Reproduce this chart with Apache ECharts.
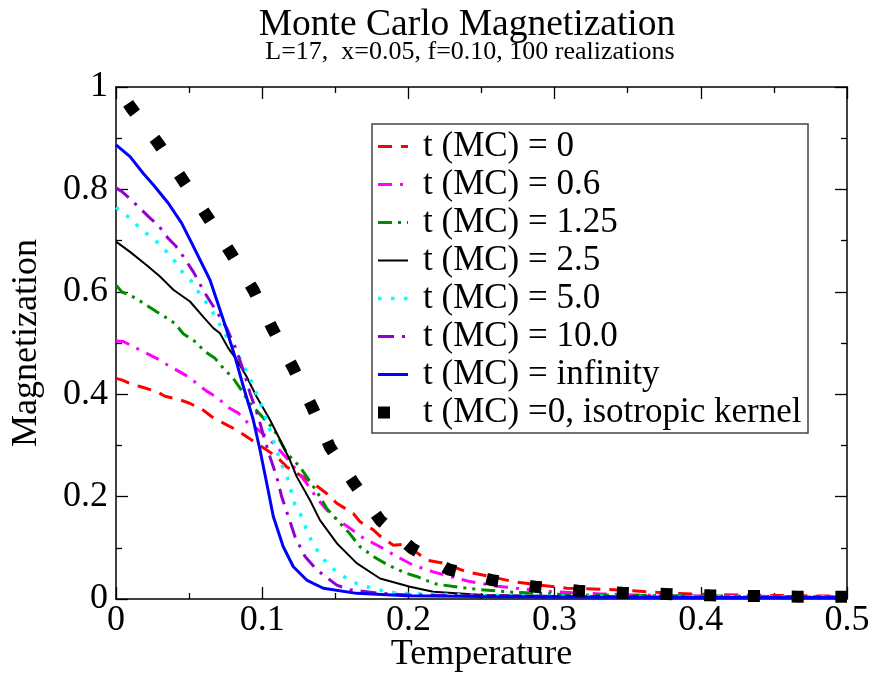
<!DOCTYPE html>
<html>
<head>
<meta charset="utf-8">
<script src="https://cdn.jsdelivr.net/npm/echarts@6/dist/echarts.min.js"></script>
<style>html,body{margin:0;padding:0;background:#fff;overflow:hidden}#c{width:874px;height:675px}</style>
</head>
<body>
<div id="c"></div>
<script>
const titleText = 'Monte Carlo Magnetization';
const subtitleText = 'L=17,  x=0.05, f=0.10, 100 realizations';
const xName = 'Temperature';
const yName = 'Magnetization';
const seriesNames = ['t (MC) = 0', 't (MC) = 0.6', 't (MC) = 1.25', 't (MC) = 2.5', 't (MC) = 5.0', 't (MC) = 10.0', 't (MC) = infinity', 't (MC) =0, isotropic kernel'];

const tmc0 = [[0,0.431],[0.0039,0.428],[0.0096,0.421],[0.0164,0.415],[0.0278,0.405],[0.0335,0.396],[0.0438,0.389],[0.0506,0.382],[0.0597,0.369],[0.0655,0.356],[0.0757,0.340],[0.0826,0.330],[0.0894,0.317],[0.0962,0.304],[0.1031,0.291],[0.1099,0.278],[0.1168,0.258],[0.1236,0.246],[0.135,0.226],[0.1441,0.206],[0.151,0.187],[0.1623,0.167],[0.1669,0.151],[0.176,0.135],[0.1806,0.123],[0.1897,0.105],[0.1965,0.107],[0.2034,0.096],[0.2125,0.076],[0.2239,0.070],[0.2399,0.053],[0.2558,0.044],[0.2718,0.034],[0.29,0.027],[0.3083,0.021],[0.3333,0.019],[0.3538,0.016],[0.3812,0.011],[0.4063,0.009],[0.4428,0.007],[0.4793,0.006],[0.5,0.006]];
const tmc06 = [[0,0.504],[0.005,0.503],[0.0118,0.493],[0.0187,0.483],[0.0278,0.470],[0.0335,0.460],[0.0415,0.447],[0.0495,0.434],[0.0552,0.421],[0.062,0.406],[0.07,0.392],[0.0757,0.376],[0.0837,0.363],[0.0905,0.343],[0.0962,0.333],[0.1053,0.311],[0.1099,0.297],[0.119,0.268],[0.1304,0.226],[0.1384,0.193],[0.1464,0.167],[0.1532,0.151],[0.1601,0.138],[0.1692,0.119],[0.1806,0.102],[0.192,0.083],[0.2034,0.066],[0.217,0.053],[0.2285,0.044],[0.2421,0.034],[0.2604,0.025],[0.2741,0.021],[0.2923,0.016],[0.3128,0.012],[0.3311,0.010],[0.3538,0.008],[0.4,0.006],[0.5,0.004]];
const tmc125 = [[0,0.613],[0.0039,0.600],[0.0118,0.590],[0.0187,0.578],[0.0278,0.561],[0.0335,0.551],[0.0404,0.538],[0.046,0.518],[0.054,0.503],[0.0609,0.483],[0.0677,0.470],[0.0734,0.451],[0.0802,0.431],[0.0848,0.412],[0.0917,0.382],[0.1019,0.350],[0.1076,0.333],[0.1168,0.285],[0.1259,0.258],[0.1327,0.229],[0.1373,0.210],[0.1441,0.177],[0.1532,0.148],[0.1589,0.131],[0.1669,0.102],[0.1783,0.079],[0.1863,0.066],[0.1988,0.050],[0.2057,0.044],[0.2114,0.037],[0.2194,0.029],[0.2341,0.023],[0.2467,0.019],[0.2672,0.014],[0.29,0.011],[0.3083,0.008],[0.4,0.006],[0.5,0.004]];
const tmc25 = [[0,0.698],[0.0096,0.678],[0.021,0.652],[0.0301,0.630],[0.0392,0.604],[0.0506,0.581],[0.0597,0.551],[0.0666,0.529],[0.0711,0.519],[0.0768,0.490],[0.0826,0.467],[0.0894,0.434],[0.0962,0.395],[0.1053,0.350],[0.1122,0.311],[0.119,0.271],[0.1236,0.239],[0.1327,0.193],[0.1395,0.154],[0.151,0.109],[0.1646,0.070],[0.1806,0.040],[0.2011,0.024],[0.217,0.014],[0.2512,0.008],[0.3,0.006],[0.4,0.004],[0.5,0.003]];
const tmc5 = [[0,0.765],[0.0039,0.756],[0.0096,0.744],[0.0153,0.727],[0.0221,0.711],[0.0289,0.695],[0.0347,0.678],[0.0404,0.659],[0.046,0.636],[0.0518,0.620],[0.0563,0.600],[0.062,0.578],[0.0666,0.558],[0.0711,0.535],[0.0757,0.512],[0.0848,0.470],[0.0928,0.424],[0.0997,0.376],[0.1053,0.330],[0.111,0.281],[0.1144,0.255],[0.1179,0.232],[0.1202,0.206],[0.1224,0.184],[0.127,0.161],[0.1304,0.135],[0.1339,0.112],[0.1384,0.092],[0.1441,0.070],[0.151,0.053],[0.1578,0.040],[0.1669,0.027],[0.176,0.021],[0.1852,0.014],[0.1943,0.011],[0.25,0.007],[0.35,0.005],[0.5,0.004]];
const tmc10 = [[0,0.803],[0.0039,0.796],[0.0107,0.779],[0.0164,0.763],[0.0233,0.744],[0.0289,0.730],[0.0358,0.704],[0.0404,0.691],[0.046,0.669],[0.0529,0.639],[0.0609,0.597],[0.0689,0.561],[0.0757,0.529],[0.0814,0.493],[0.0871,0.447],[0.0917,0.402],[0.0973,0.356],[0.1008,0.320],[0.1053,0.278],[0.1099,0.239],[0.1133,0.200],[0.1179,0.161],[0.1224,0.122],[0.1293,0.083],[0.1373,0.057],[0.151,0.027],[0.1601,0.018],[0.1806,0.011],[0.2,0.008],[0.25,0.006],[0.35,0.004],[0.5,0.003]];
const tmcInf = [[0,0.887],[0.0096,0.864],[0.0187,0.831],[0.0255,0.809],[0.0358,0.773],[0.0449,0.734],[0.0518,0.695],[0.0643,0.623],[0.0746,0.535],[0.0814,0.473],[0.0871,0.415],[0.0939,0.350],[0.0985,0.291],[0.1031,0.226],[0.1076,0.161],[0.1144,0.102],[0.1213,0.063],[0.1304,0.037],[0.1418,0.021],[0.1646,0.011],[0.1988,0.0064],[0.25,0.005],[0.3,0.004],[0.4,0.003],[0.5,0.003]];
const isoKernel = [[0.0083,0.968],[0.0107,0.958],[0.0289,0.890],[0.0453,0.820],[0.0620,0.749],[0.0785,0.676],[0.0939,0.604],[0.1072,0.527],[0.1213,0.451],[0.1343,0.374],[0.1464,0.296],[0.1630,0.225],[0.1806,0.154],[0.2023,0.099],[0.2273,0.058],[0.2570,0.037],[0.2866,0.024],[0.3162,0.016],[0.3466,0.012],[0.3762,0.0098],[0.4063,0.0072],[0.4364,0.0059],[0.4663,0.0045],[0.4964,0.0045],[0.5,0.0045]];

const FONT = "'Liberation Serif','Times New Roman',serif";
const chart = echarts.init(document.getElementById('c'), null, {renderer: 'canvas', width: 874, height: 675});

function lineSeries(name, data, color, width, dash, extra) {
  return Object.assign({
    name: name, type: 'line', data: data, symbol: 'none', smooth: false,
    xAxisIndex: 0, yAxisIndex: 0, animation: false,
    lineStyle: {color: color, width: width, type: dash, cap: 'butt'},
    itemStyle: {color: color}
  }, extra || {});
}

const axisCommon = {
  type: 'value',
  axisLine: {show: true, onZero: false, lineStyle: {color: '#000', width: 1.5}},
  axisTick: {show: true, inside: true, length: 12, lineStyle: {color: '#000', width: 1.3}},
  minorTick: {show: true, splitNumber: 2, length: 6, lineStyle: {color: '#000', width: 1.3}},
  splitLine: {show: false},
  minorSplitLine: {show: false}
};

const option = {
  backgroundColor: '#fff',
  animation: false,
  title: [
    {text: titleText, left: 467, top: 6, textAlign: 'center', padding: 0,
     textStyle: {fontFamily: FONT, fontSize: 37.5, fontWeight: 'normal', color: '#000'}},
    {text: subtitleText, left: 470, top: 39, textAlign: 'center', padding: 0,
     textStyle: {fontFamily: FONT, fontSize: 26, fontWeight: 'normal', color: '#000'}}
  ],
  grid: {left: 116, top: 87, width: 731, height: 512, containLabel: false, outerBoundsMode: 'none'},
  xAxis: [
    Object.assign({}, axisCommon, {
      min: 0, max: 0.5, interval: 0.1, position: 'bottom',
      name: xName, nameLocation: 'middle', nameGap: 38, nameMoveOverlap: false,
      nameTextStyle: {fontFamily: FONT, fontSize: 36, color: '#000'},
      axisLabel: {fontFamily: FONT, fontSize: 36, color: '#000', margin: 4}
    }),
    Object.assign({}, axisCommon, {
      min: 0, max: 0.5, interval: 0.1, position: 'top', axisLabel: {show: false}
    })
  ],
  yAxis: [
    Object.assign({}, axisCommon, {
      min: 0, max: 1, interval: 0.2, position: 'left',
      name: yName, nameLocation: 'middle', nameGap: 71, nameMoveOverlap: false,
      nameTextStyle: {fontFamily: FONT, fontSize: 36, color: '#000'},
      axisLabel: {fontFamily: FONT, fontSize: 36, color: '#000', margin: 8}
    }),
    Object.assign({}, axisCommon, {
      min: 0, max: 1, interval: 0.2, position: 'right', axisLabel: {show: false}
    })
  ],
  legend: {
    orient: 'vertical', left: 372, top: 129, padding: 0,
    itemWidth: 30, itemHeight: 14, itemGap: 3,
    selectedMode: false,
    data: seriesNames,
    textStyle: {fontFamily: FONT, fontSize: 35, color: '#000', lineHeight: 30, padding: [0, 0, 0, 10]},
    itemStyle: {opacity: 0},
    lineStyle: {width: 'inherit'}
  },
  graphic: [
    {type: 'rect', shape: {x: 372, y: 124, width: 436, height: 309}, z: 1,
     style: {fill: 'none', stroke: '#444', lineWidth: 1.5}}
  ],
  series: [
    lineSeries(seriesNames[0], tmc0, '#ff0000', 3, [14, 9]),
    lineSeries(seriesNames[1], tmc06, '#ff00ff', 3, [14, 8, 3, 8]),
    lineSeries(seriesNames[2], tmc125, '#008b00', 3, [14, 6, 3, 6, 3, 6]),
    lineSeries(seriesNames[3], tmc25, '#000000', 2, 'solid'),
    lineSeries(seriesNames[4], tmc5, '#00ffff', 3.5, [3.5, 9.5]),
    lineSeries(seriesNames[5], tmc10, '#9400d3', 3, [16, 8, 3, 8]),
    lineSeries(seriesNames[6], tmcInf, '#0000ff', 3, 'solid'),
    lineSeries(seriesNames[7], isoKernel, '#000000', 12, [12, 31.73], {clip: false})
  ]
};
chart.setOption(option);
</script>
</body>
</html>
